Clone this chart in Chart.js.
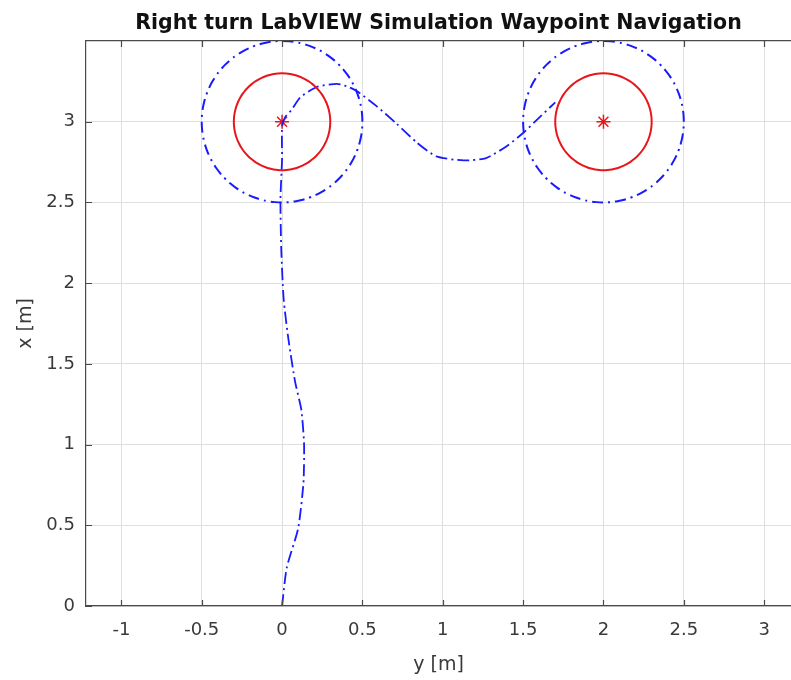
<!DOCTYPE html>
<html>
<head>
<meta charset="utf-8">
<title>Right turn LabVIEW Simulation Waypoint Navigation</title>
<script src="https://cdn.jsdelivr.net/npm/chart.js@4.4.1/dist/chart.umd.min.js"></script>
<style>
  html, body { margin: 0; padding: 0; background: #fff; }
  canvas { display: block; }
</style>
</head>
<body>
<canvas id="navChart" width="791" height="680"></canvas>
<script>
// ===== Waypoint navigation plot =====

// Waypoints (horizontal = y [m], vertical = x [m])
const waypointY = [0, 2];
const waypointX = [3, 3];
const acceptRadius = 0.3;   // red solid circles
const outerRadius = 0.5;    // blue dash-dot circles

// Robot trajectory
const trajY = [0, 0.029, 0.10, 0.133, 0.137, 0.12, 0.081, 0.04, 0.01, -0.005, -0.01, 0.0, 0.0, 0.02,
  0.06, 0.112, 0.216, 0.34, 0.40, 0.465, 0.59, 0.71, 0.84, 0.96, 1.13, 1.27, 1.40, 1.50, 1.605, 1.70];
const trajX = [0, 0.236, 0.48, 0.76, 1.0, 1.215, 1.39, 1.65, 1.90, 2.21, 2.52, 2.77, 2.97, 3.03,
  3.075, 3.15, 3.215, 3.235, 3.22, 3.19, 3.095, 2.99, 2.87, 2.785, 2.76, 2.775, 2.85, 2.93, 3.03, 3.12];

// Axis ticks
const yAxisTicks = [-1, -0.5, 0, 0.5, 1, 1.5, 2, 2.5, 3];
const xAxisTicks = [0, 0.5, 1, 1.5, 2, 2.5, 3];

const FONT = '"DejaVu Sans", Verdana, sans-serif';
const AXIS_COLOR = '#4a4a4a';
const TEXT_COLOR = '#3a3a3a';
const GRID_COLOR = '#dfdfdf';
const BLUE = '#1a1aff';
const RED = '#e8161b';

function circlePoints(cy, cx, r) {
  const pts = [];
  for (let i = 0; i <= 72; i++) {
    const a = (i / 72) * Math.PI * 2;
    pts.push({ x: cy + r * Math.cos(a), y: cx + r * Math.sin(a) });
  }
  return pts;
}

const trajectory = trajY.map((y, i) => ({ x: y, y: trajX[i] }));
const centers = waypointY.map((y, i) => ({ x: y, y: waypointX[i] }));

const datasets = [];
waypointY.forEach((wy, i) => {
  datasets.push({
    data: circlePoints(wy, waypointX[i], acceptRadius),
    showLine: true, borderColor: RED, borderWidth: 2, pointRadius: 0, tension: 0.4
  });
  datasets.push({
    data: circlePoints(wy, waypointX[i], outerRadius),
    showLine: true, borderColor: BLUE, borderWidth: 2, borderDash: [11, 5, 2, 5],
    pointRadius: 0, tension: 0.4
  });
});
datasets.push({
  data: trajectory,
  showLine: true, borderColor: BLUE, borderWidth: 1.8, borderDash: [12, 4, 2, 4],
  pointRadius: 0, tension: 0.2
});
datasets.push({
  data: centers,
  showLine: false, pointStyle: 'star', pointRadius: 7, pointBorderColor: RED,
  pointBorderWidth: 1.5, pointBackgroundColor: RED
});

// MATLAB style inward ticks
const matlabTicks = {
  id: 'matlabTicks',
  afterDraw(chart) {
    const { ctx, chartArea: a, scales } = chart;
    ctx.save();
    ctx.strokeStyle = AXIS_COLOR;
    ctx.lineWidth = 1.2;
    ctx.beginPath();
    yAxisTicks.forEach(v => {
      const px = Math.round(scales.x.getPixelForValue(v)) + 0.5;
      ctx.moveTo(px, a.bottom); ctx.lineTo(px, a.bottom - 6);
      ctx.moveTo(px, a.top); ctx.lineTo(px, a.top + 6);
    });
    xAxisTicks.forEach(v => {
      const py = Math.round(scales.y.getPixelForValue(v)) + 0.5;
      ctx.moveTo(a.left, py); ctx.lineTo(a.left + 6, py);
    });
    ctx.stroke();
    ctx.restore();
  }
};

const tickFont = { family: FONT, size: 18 };

new Chart(document.getElementById('navChart'), {
  type: 'scatter',
  data: { datasets },
  options: {
    responsive: false,
    animation: false,
    layout: { padding: 0, autoPadding: false },
    plugins: {
      legend: { display: false },
      tooltip: { enabled: false },
      title: { display: false }
    },
    scales: {
      x: {
        type: 'linear',
        min: -1.22,
        max: 3.167,
        afterBuildTicks: (s) => { s.ticks = yAxisTicks.map(v => ({ value: v })); },
        afterFit: (s) => { s.height = 74; s.paddingLeft = 0; s.paddingRight = 0; },
        grid: { color: GRID_COLOR, drawTicks: false },
        border: { display: true, color: AXIS_COLOR, width: 1.2 },
        ticks: { color: TEXT_COLOR, font: tickFont, padding: 14, maxRotation: 0, callback: v => String(v) },
        title: {
          display: true, text: 'y [m]', color: TEXT_COLOR,
          font: { family: FONT, size: 19, lineHeight: 1.2 },
          padding: { top: 0, bottom: 3.6 }
        }
      },
      // top axis: box line and the plot title, centred over the axes like MATLAB
      xTop: {
        type: 'linear',
        position: 'top',
        min: -1.22,
        max: 3.167,
        afterFit: (s) => { s.height = 41; s.paddingLeft = 0; s.paddingRight = 0; },
        grid: { display: false, drawTicks: false },
        border: { display: true, color: AXIS_COLOR, width: 1.2 },
        ticks: { display: false },
        title: {
          display: true,
          text: 'Right turn LabVIEW Simulation Waypoint Navigation',
          color: '#111',
          font: { family: FONT, size: 20.5, weight: 'bold', lineHeight: 1.2 },
          padding: { top: 11, bottom: 0 }
        }
      },
      y: {
        type: 'linear',
        min: 0,
        max: 3.5,
        afterBuildTicks: (s) => { s.ticks = xAxisTicks.map(v => ({ value: v })); },
        afterFit: (s) => { s.width = 86; },
        grid: { color: GRID_COLOR, drawTicks: false },
        border: { display: true, color: AXIS_COLOR, width: 1.2 },
        ticks: { color: TEXT_COLOR, font: tickFont, padding: 11, callback: v => String(v) },
        title: {
          display: true, text: 'x [m]', color: TEXT_COLOR,
          font: { family: FONT, size: 19, lineHeight: 1.2 },
          padding: { top: 14.6, bottom: 0 }
        }
      }
    }
  },
  plugins: [matlabTicks]
});
</script>
</body>
</html>
